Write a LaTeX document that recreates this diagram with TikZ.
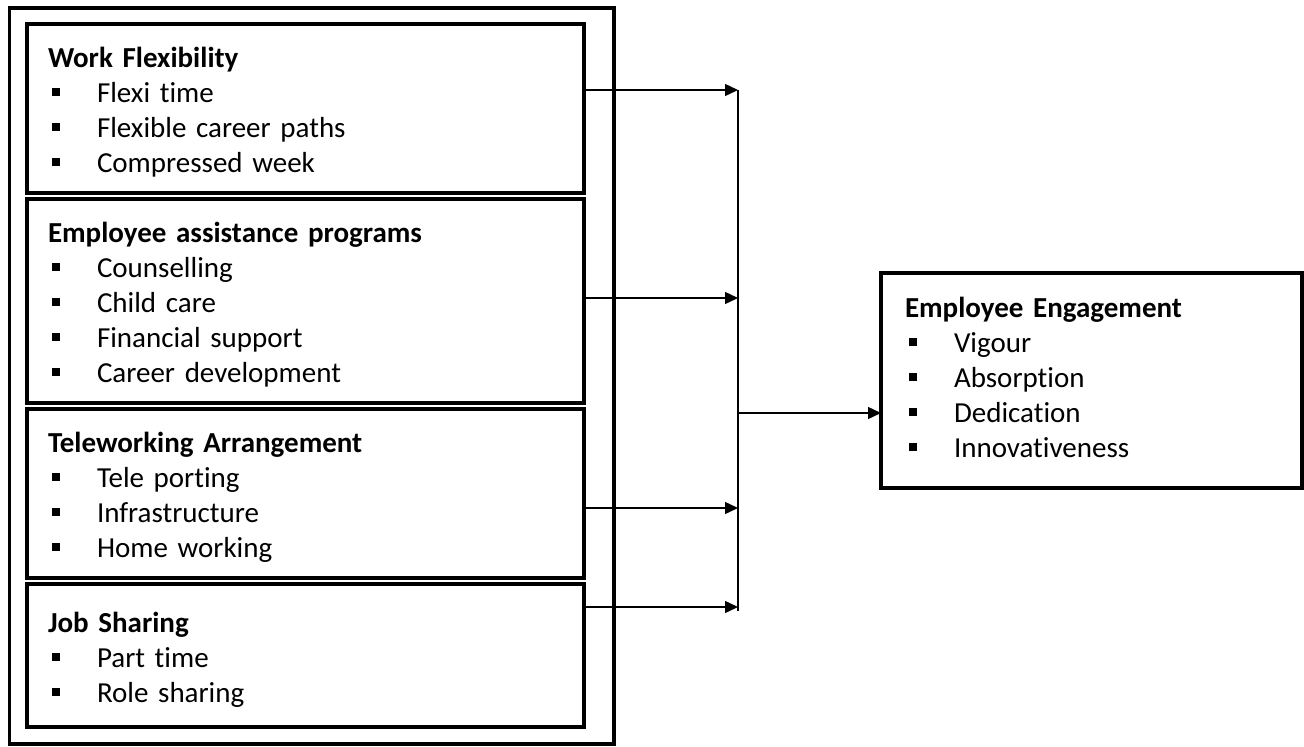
\documentclass[tikz,border=0pt]{standalone}
\usepackage{fontspec}
\setmainfont{Carlito}[Ligatures=NoCommon]
\usetikzlibrary{arrows.meta}
\newcommand{\sqbullet}{\makebox[49pt][l]{\hspace{3.5pt}\rule[6.5pt]{8pt}{8pt}}}
\newcommand{\firstrow}{\rule{0pt}{31pt}}
\newcommand{\lastrow}[1][8pt]{\rule[-#1]{0pt}{#1}}

\begin{document}
\begin{tikzpicture}[x=1pt,y=-1pt,>={Triangle[length=13pt,width=12pt]},
    line join=miter,
    factor/.style={draw,line width=4pt,outer sep=0pt,anchor=north west,
      minimum width=557pt,text width=515pt,inner xsep=21pt,inner ysep=0pt,
      align=left,font=\fontsize{29}{35}\selectfont},
    outcome/.style={factor,minimum width=421pt,text width=373pt,inner xsep=24pt},
    frame/.style={line width=3.5pt},
    flow/.style={->,line width=1.4pt},
    bus/.style={line width=1.4pt}]
  \useasboundingbox (0,0) rectangle (1304,747);

  % The four groups of practices, stacked in one frame.
  \draw[frame] (9.5,8) rectangle (614,744);
  \node[factor,minimum height=169pt] (wf) at (27,24)
    {\firstrow\textbf{Work Flexibility}\\
     \sqbullet Flexi time\\
     \sqbullet Flexible career paths\\
     \sqbullet Compressed week\lastrow};
  \node[factor,minimum height=204pt] (eap) at (27,199)
    {\firstrow\textbf{Employee assistance programs}\\
     \sqbullet Counselling\\
     \sqbullet Child care\\
     \sqbullet Financial support\\
     \sqbullet Career development\lastrow};
  \node[factor,minimum height=169pt] (ta) at (27,409)
    {\firstrow\textbf{Teleworking Arrangement}\\
     \sqbullet Tele porting\\
     \sqbullet Infrastructure\\
     \sqbullet Home working\lastrow};
  \node[factor,minimum height=143pt] (js) at (27,584)
    {\firstrow\textbf{Job Sharing}\\
     \sqbullet Part time\\
     \sqbullet Role sharing\lastrow};

  % The outcome box.
  \node[outcome,minimum height=215pt] (ee) at (881,273)
    {\firstrow\textbf{Employee Engagement}\\
     \sqbullet Vigour\\
     \sqbullet Absorption\\
     \sqbullet Dedication\\
     \sqbullet Innovativeness\lastrow[17pt]};

  % Joints on the collecting line.
  \coordinate (j1) at (738,90);
  \coordinate (j2) at (738,298);
  \coordinate (j3) at (738,508);
  \coordinate (j4) at (738,607);
  \coordinate (jtop) at (738,90);
  \coordinate (jbot) at (738,611);
  \coordinate (jout) at (738,413);

  \draw[flow] (wf.east |- j1) -- (j1);
  \draw[flow] (eap.east |- j2) -- (j2);
  \draw[flow] (ta.east |- j3) -- (j3);
  \draw[flow] (js.east |- j4) -- (j4);
  \draw[bus] (jtop) -- (jbot);
  \draw[flow] (jout) -- (jout -| ee.west);
\end{tikzpicture}
\end{document}
